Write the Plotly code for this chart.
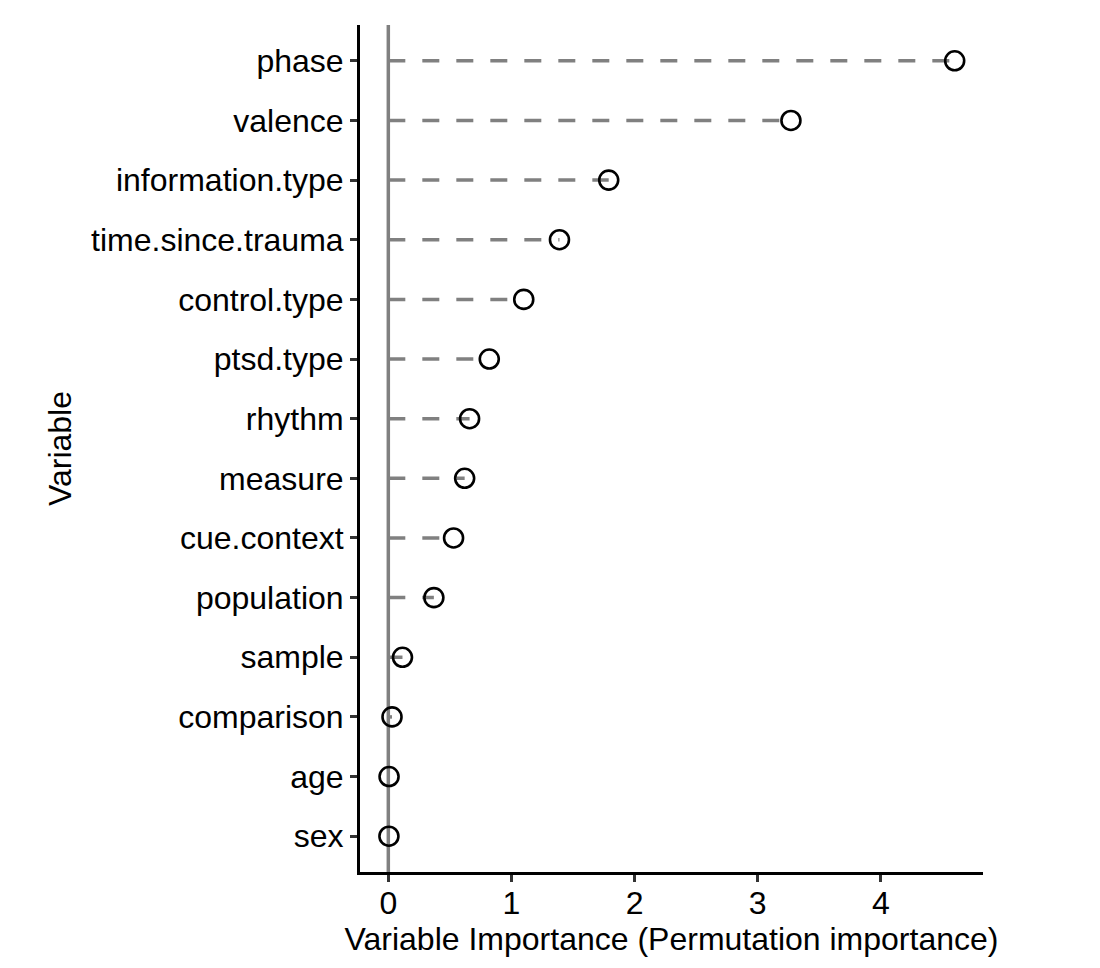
import plotly.graph_objects as go

variables = ["phase", "valence", "information.type", "time.since.trauma", "control.type",
             "ptsd.type", "rhythm", "measure", "cue.context", "population", "sample",
             "comparison", "age", "sex"]
importance = [4.60, 3.27, 1.79, 1.39, 1.10, 0.82, 0.66, 0.62, 0.53, 0.37, 0.115, 0.03, 0.006, 0.005]
x_ticks = [0, 1, 2, 3, 4]

FONT = "Liberation Sans, Arial, sans-serif"
GRAY = "#808080"
FS = 32

seg_x, seg_y = [], []
for v, imp in zip(variables, importance):
    seg_x += [0, imp, None]
    seg_y += [v, v, None]

fig = go.Figure()
# vertical reference line at 0
fig.add_shape(type="line", x0=0, x1=0, y0=0, y1=1, xref="x", yref="paper",
              line=dict(color=GRAY, width=3.5), layer="below")
fig.add_trace(go.Scatter(x=seg_x, y=seg_y, mode="lines",
                         line=dict(color=GRAY, width=3.5, dash="17px,17px"),
                         hoverinfo="skip", showlegend=False))
fig.add_trace(go.Scatter(x=importance, y=variables, mode="markers",
                         marker=dict(symbol="circle-open", size=19, color="black",
                                     line=dict(width=2.6, color="black")),
                         showlegend=False))

fig.update_layout(
    width=1100, height=968,
    margin=dict(l=360, r=117, t=25, b=96),
    paper_bgcolor="white", plot_bgcolor="white",
    font=dict(family=FONT, size=FS, color="black"),
    showlegend=False,
)
fig.update_xaxes(range=[-0.23, 4.83], tickvals=x_ticks, ticktext=[str(t) for t in x_ticks],
                 showgrid=False, zeroline=False, showline=True, linecolor="black", linewidth=3,
                 ticks="outside", ticklen=7, tickwidth=2.5, tickcolor="#333333",
                 ticklabelstandoff=-6,
                 title=dict(text="Variable Importance (Permutation importance)", standoff=4,
                            font=dict(size=FS)),
                 tickfont=dict(size=FS, color="black"))
fig.update_yaxes(categoryorder="array", categoryarray=variables, autorange=False,
                 range=[13.6, -0.6],
                 showgrid=False, zeroline=False, showline=True, linecolor="black", linewidth=3,
                 ticks="outside", ticklen=7, tickwidth=2.5, tickcolor="#333333",
                 ticklabelstandoff=0,
                 title=dict(text="Variable", standoff=10, font=dict(size=FS)),
                 tickfont=dict(size=FS, color="black"))

fig.write_html("out.html")
